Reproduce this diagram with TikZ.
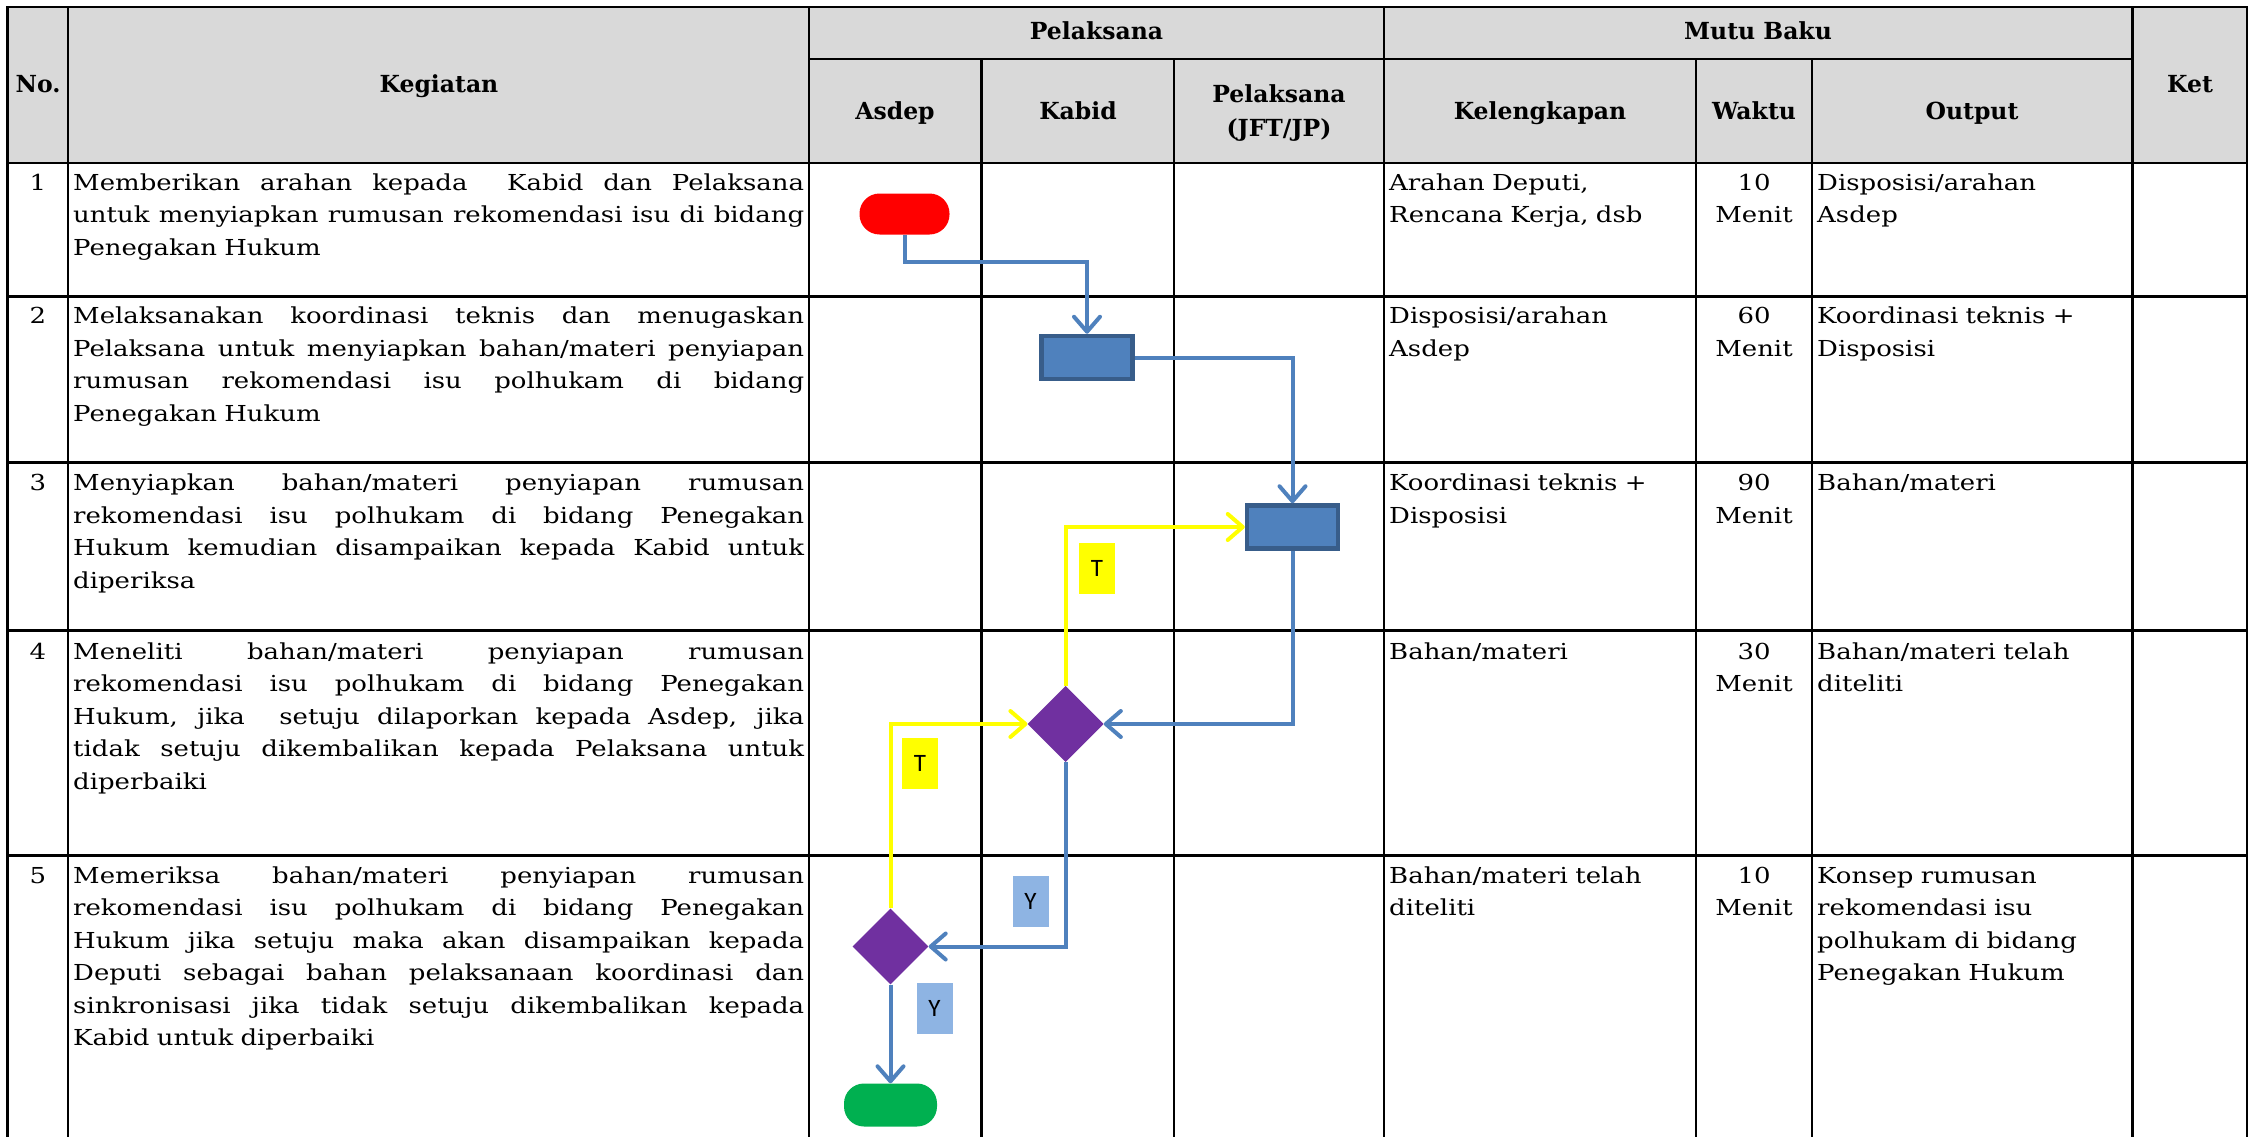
\documentclass[tikz,border=0pt]{standalone}
\usepackage{fontspec}
\setmainfont{DejaVu Serif}[FakeStretch=1.18]
\newfontfamily\hdfont{DejaVu Serif}
\newfontfamily\lblfont{Carlito}
\usetikzlibrary{arrows.meta,shapes.geometric}
\definecolor{hdgray}{HTML}{D9D9D9}
\definecolor{flowblue}{HTML}{4F81BD}
\definecolor{boxborder}{HTML}{385D8A}
\definecolor{decpurple}{HTML}{7030A0}
\definecolor{startred}{HTML}{FF0000}
\definecolor{endgreen}{HTML}{00B050}
\definecolor{ylabelblue}{HTML}{8EB4E3}
\definecolor{flowyellow}{HTML}{FFFF00}
\newlength\kw \setlength\kw{731pt}
\newcommand\jl[1]{\leavevmode\hbox to \kw{\spaceskip=\fontdimen2\font plus 1fil\relax #1}}
\newcommand\fs{\rule{0pt}{24pt}}
\begin{document}
\begin{tikzpicture}[x=1pt,y=-1pt,
  tline/.style={line width=2.4pt,line cap=rect},
  body/.style={inner sep=0pt,font=\fontsize{22}{32.5}\selectfont},
  kcell/.style={body,anchor=north west,text width=\kw,align=left},
  lcell/.style={body,anchor=north west,text width=300pt,align=left},
  wcell/.style={body,anchor=north,text width=110pt,align=center},
  numcell/.style={body,anchor=base},
  hd/.style={inner sep=0pt,anchor=base,font=\hdfont\bfseries\fontsize{23.5}{34}\selectfont},
  flowarrow/.style={line width=4pt,-{Straight Barb[length=15pt,width=26pt,round]}},
  bflow/.style={flowarrow,draw=flowblue},
  yflow/.style={flowarrow,draw=flowyellow},
  terminal/.style={rectangle,rounded corners=20pt,minimum width=90pt,minimum height=41pt,inner sep=0pt},
  procbox/.style={rectangle,fill=flowblue,draw=boxborder,line width=4.5pt,minimum width=91pt,minimum height=43pt,inner sep=0pt},
  decision/.style={diamond,fill=decpurple,minimum width=76pt,minimum height=76pt,inner sep=0pt},
  lbl/.style={minimum width=36pt,minimum height=51pt,inner sep=0pt,font=\lblfont\fontsize{25}{25}\selectfont}
]
\useasboundingbox (0,0) rectangle (2256,1137);
% header background
\fill[hdgray] (7.5,7) rectangle (2247,163);
% horizontal lines
\draw[tline] (7.5,7) -- (2247,7);
\draw[tline] (809,59) -- (2132.5,59);
\foreach \yy in {163,296.5,462.5,630.5,855.5}{\draw[tline] (7.5,\yy) -- (2247,\yy);}
% vertical lines
\foreach \xx in {7.5,68,809,1384,2132.5,2247}{\draw[tline] (\xx,7) -- (\xx,1137);}
\foreach \xx in {981.5,1174,1696,1812}{\draw[tline] (\xx,59) -- (\xx,1137);}

% header texts
\node[hd] (hno) at (38,92.7) {No.};
\node[hd] (hkeg) at (439,92.7) {Kegiatan};
\node[hd] (hpel) at (1096.5,40) {Pelaksana};
\node[hd] (hmutu) at (1758,40) {Mutu Baku};
\node[hd] (hket) at (2190,92.7) {Ket};
\node[hd] (hasdep) at (895,120) {Asdep};
\node[hd] (hkabid) at (1078,120) {Kabid};
\node[hd,anchor=north,align=center] (hjft) at (1279,78.7) {\rule{0pt}{24pt}Pelaksana\\(JFT/JP)};
\node[hd] (hkel) at (1540,120) {Kelengkapan};
\node[hd] (hwak) at (1754,120) {Waktu};
\node[hd] (hout) at (1972,120) {Output};

% numbers
\node[numcell] (n1) at (38,190) {1};
\node[numcell] (n2) at (38,323.5) {2};
\node[numcell] (n3) at (38,490.5) {3};
\node[numcell] (n4) at (38,659) {4};
\node[numcell] (n5) at (38,883) {5};

% Kegiatan
\node[kcell] (k1) at (73,166) {\fs\jl{Memberikan arahan kepada\ \ Kabid dan Pelaksana}\\\jl{untuk menyiapkan rumusan rekomendasi isu di bidang}\\Penegakan Hukum};
\node[kcell] (k2) at (73,299.5) {\fs\jl{Melaksanakan koordinasi teknis dan menugaskan}\\\jl{Pelaksana untuk menyiapkan bahan/materi penyiapan}\\\jl{rumusan rekomendasi isu polhukam di bidang}\\Penegakan Hukum};
\node[kcell] (k3) at (73,466.5) {\fs\jl{Menyiapkan bahan/materi penyiapan rumusan}\\\jl{rekomendasi isu polhukam di bidang Penegakan}\\\jl{Hukum kemudian disampaikan kepada Kabid untuk}\\diperiksa};
\node[kcell] (k4) at (73,635) {\fs\jl{Meneliti bahan/materi penyiapan rumusan}\\\jl{rekomendasi isu polhukam di bidang Penegakan}\\\jl{Hukum, jika\ \ setuju dilaporkan kepada Asdep, jika}\\\jl{tidak setuju dikembalikan kepada Pelaksana untuk}\\diperbaiki};
\node[kcell] (k5) at (73,859) {\fs\jl{Memeriksa bahan/materi penyiapan rumusan}\\\jl{rekomendasi isu polhukam di bidang Penegakan}\\\jl{Hukum jika setuju maka akan disampaikan kepada}\\\jl{Deputi sebagai bahan pelaksanaan koordinasi dan}\\\jl{sinkronisasi jika tidak setuju dikembalikan kepada}\\Kabid untuk diperbaiki};

% Kelengkapan
\node[lcell] (l1) at (1389,166) {\fs Arahan Deputi,\\Rencana Kerja, dsb};
\node[lcell] (l2) at (1389,299.5) {\fs Disposisi/arahan\\Asdep};
\node[lcell] (l3) at (1389,466.5) {\fs Koordinasi teknis +\\Disposisi};
\node[lcell] (l4) at (1389,635) {\fs Bahan/materi};
\node[lcell] (l5) at (1389,859) {\fs Bahan/materi telah\\diteliti};

% Waktu
\node[wcell] (w1) at (1754,166) {\fs 10\\Menit};
\node[wcell] (w2) at (1754,299.5) {\fs 60\\Menit};
\node[wcell] (w3) at (1754,466.5) {\fs 90\\Menit};
\node[wcell] (w4) at (1754,635) {\fs 30\\Menit};
\node[wcell] (w5) at (1754,859) {\fs 10\\Menit};

% Output
\node[lcell] (o1) at (1817,166) {\fs Disposisi/arahan\\Asdep};
\node[lcell] (o2) at (1817,299.5) {\fs Koordinasi teknis +\\Disposisi};
\node[lcell] (o3) at (1817,466.5) {\fs Bahan/materi};
\node[lcell] (o4) at (1817,635) {\fs Bahan/materi telah\\diteliti};
\node[lcell] (o5) at (1817,859) {\fs Konsep rumusan\\rekomendasi isu\\polhukam di bidang\\Penegakan Hukum};

% flow nodes
\node[terminal,fill=startred] (start) at (904.5,214) {};
\node[procbox] (box1) at (1087,357.5) {};
\node[procbox] (box2) at (1292.5,527) {};
\node[decision] (d1) at (1065.6,724) {};
\node[decision] (d2) at (890.5,946.5) {};
\node[terminal,fill=endgreen,minimum width=93pt,minimum height=43pt] (finish) at (890.5,1105) {};
\coordinate (c1) at (1087,262);

% connectors
\draw[bflow] (start.south) |- (c1) -- (box1.north);
\draw[bflow] (box1.east) -| (box2.north);
\draw[bflow] (box2.south) |- (d1.east);
\draw[bflow] (d1.south) |- (d2.east);
\draw[bflow] (d2.south) -- (finish.north);
\draw[yflow] (d1.north) |- (box2.west);
\draw[yflow] (d2.north) |- (d1.west);

% labels
\node[lbl,fill=flowyellow] (t1) at (1097,568) {T};
\node[lbl,fill=flowyellow] (t2) at (920,763) {T};
\node[lbl,fill=ylabelblue] (y1) at (1030.5,901) {Y};
\node[lbl,fill=ylabelblue] (y2) at (934.5,1008) {Y};
\end{tikzpicture}
\end{document}
